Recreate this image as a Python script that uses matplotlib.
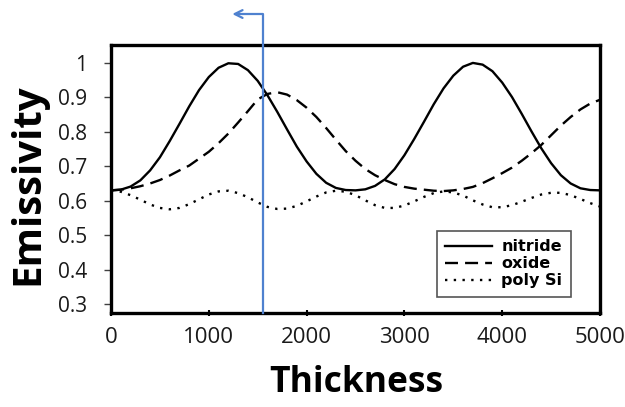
#!/usr/bin/env python3
"""Emissivity vs. film thickness for nitride, oxide and poly Si layers."""
import numpy as np
import matplotlib
matplotlib.use('Agg')
import matplotlib.pyplot as plt

# Thickness grid (every 100 units, 0..5000)
thickness = np.arange(0, 5001, 100)

nitride = [0.630, 0.632, 0.641, 0.659, 0.688, 0.726, 0.773, 0.823, 0.874, 0.921,
           0.959, 0.986, 0.999, 0.997, 0.979, 0.948, 0.906, 0.858, 0.807, 0.757,
           0.714, 0.678, 0.652, 0.637, 0.631, 0.630, 0.633, 0.643, 0.662, 0.692,
           0.732, 0.779, 0.829, 0.880, 0.926, 0.963, 0.989, 1.000, 0.995, 0.976,
           0.943, 0.901, 0.852, 0.801, 0.752, 0.709, 0.674, 0.650, 0.636, 0.631,
           0.630]

oxide = [0.630, 0.632, 0.636, 0.642, 0.650, 0.660, 0.673, 0.688, 0.702, 0.722,
         0.742, 0.767, 0.795, 0.827, 0.860, 0.894, 0.910, 0.915, 0.908, 0.892,
         0.870, 0.843, 0.811, 0.777, 0.744, 0.716, 0.692, 0.674, 0.660, 0.648,
         0.640, 0.635, 0.632, 0.629, 0.628, 0.630, 0.634, 0.640, 0.651, 0.665,
         0.680, 0.696, 0.716, 0.738, 0.762, 0.790, 0.818, 0.843, 0.865, 0.882,
         0.893]

poly_si = [0.630, 0.626, 0.616, 0.603, 0.589, 0.579, 0.575, 0.579, 0.590, 0.604,
           0.618, 0.627, 0.629, 0.622, 0.610, 0.595, 0.582, 0.576, 0.577, 0.585,
           0.598, 0.612, 0.624, 0.629, 0.626, 0.616, 0.601, 0.587, 0.579, 0.579,
           0.586, 0.598, 0.611, 0.622, 0.627, 0.624, 0.615, 0.601, 0.589, 0.581,
           0.581, 0.587, 0.597, 0.608, 0.618, 0.623, 0.623, 0.616, 0.605, 0.593,
           0.583]

series_names = ['nitride', 'oxide', 'poly Si']
x_ticks = [0, 1000, 2000, 3000, 4000, 5000]
y_ticks = [0.3, 0.4, 0.5, 0.6, 0.7, 0.8, 0.9, 1.0]
y_tick_labels = ['0.3', '0.4', '0.5', '0.6', '0.7', '0.8', '0.9', '1']

# blue marker line (thickness value) and where its arrow points to
marker_thickness = 1555
arrow_end = 1240
arrow_level = 1.142

fig = plt.figure(figsize=(6.25, 4.07), dpi=100)
ax = fig.add_axes([0.1776, 0.231, 0.7824, 0.6584])

ax.plot(thickness, nitride, color='black', lw=1.7, label=series_names[0])
ax.plot(thickness, oxide, color='black', lw=1.7, dashes=(5.5, 3), label=series_names[1])
ax.plot(thickness, poly_si, color='black', lw=1.7, dashes=(1, 2.7), label=series_names[2])

ax.set_xlim(0, 5000)
ax.set_ylim(0.274, 1.052)

ax.set_xticks(x_ticks)
ax.set_yticks(y_ticks)
ax.set_yticklabels(y_tick_labels)

for lbl in ax.get_yticklabels():
    lbl.set_fontfamily('Open Sans')
    lbl.set_fontsize(15)
    lbl.set_color('#1a1a1a')
for lbl in ax.get_xticklabels():
    lbl.set_fontfamily('Open Sans')
    lbl.set_fontsize(16)
    lbl.set_color('#1a1a1a')

ax.tick_params(axis='y', direction='out', length=5, width=1, color='#404040', pad=12)
ax.tick_params(axis='x', direction='inout', length=4, width=1.5, color='black', pad=8)

for side in ['left', 'right', 'top', 'bottom']:
    ax.spines[side].set_linewidth(2.4)
    ax.spines[side].set_color('black')

ax.set_ylabel('Emissivity', fontfamily='Open Sans', fontsize=29, fontweight='bold', va='center')
ax.yaxis.set_label_coords(-0.17, 0.481)
ax.set_xlabel('Thickness', fontfamily='Open Sans', fontsize=25.5, fontweight='bold', va='center')
ax.xaxis.set_label_coords(0.501, -0.261)

leg = ax.legend(loc='lower right', bbox_to_anchor=(0.941, 0.060), borderaxespad=0,
                fancybox=False,
                prop={'family': 'DejaVu Sans', 'weight': 'bold', 'size': 11.5},
                handlelength=2.9, handletextpad=0.6, borderpad=0.55, labelspacing=0.12,
                framealpha=1)
leg.get_frame().set_edgecolor('#555555')
leg.get_frame().set_linewidth(1.2)

# blue marker line with arrow, extending above the plot
blue = '#4F81CF'
ax.plot([marker_thickness, marker_thickness, arrow_end + 60],
        [0.274, arrow_level, arrow_level], color=blue, lw=1.6, clip_on=False, zorder=5)
ax.annotate('', xy=(arrow_end, arrow_level), xytext=(arrow_end + 80, arrow_level),
            xycoords='data', annotation_clip=False,
            arrowprops=dict(arrowstyle='->', color=blue, lw=1.6,
                            mutation_scale=14, shrinkA=0, shrinkB=0))

plt.savefig('out.png', dpi=100)
